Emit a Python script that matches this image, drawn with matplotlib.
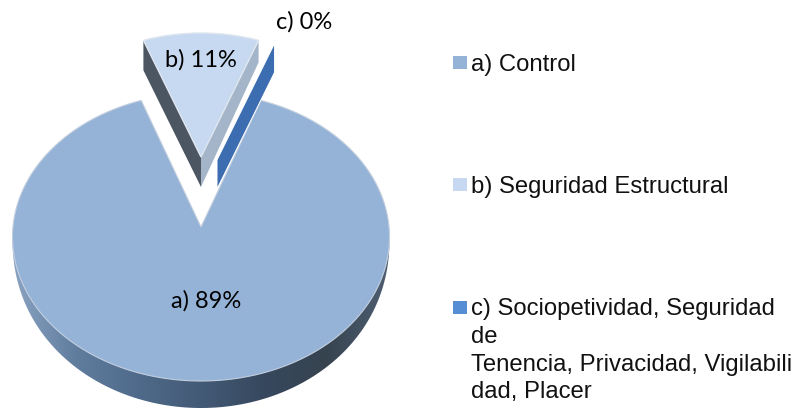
import numpy as np
import matplotlib
matplotlib.use("Agg")
import matplotlib.pyplot as plt
from matplotlib.patches import Wedge, Polygon, Rectangle
from matplotlib.transforms import Affine2D
from matplotlib.colors import LinearSegmentedColormap

# data
values = [89, 11, 0]
pie_labels = ["a) 89%", "b) 11%", "c) 0%"]
legend_labels = [
    ["a) Control"],
    ["b) Seguridad Estructural"],
    ["c) Sociopetividad, Seguridad", "de", "Tenencia, Privacidad, Vigilabili", "dad, Placer"],
]
colors = ["#95b3d7", "#c6d9f0", "#558ed5"]

start_angle = 70.2  # first slice starts here and runs clockwise


def rim(cx, cy, rx, ry, ang):
    t = np.radians(ang)
    return cx + rx * np.cos(t), cy - ry * np.sin(t)


def flat_wedge(ax, cx, cy, rx, ry, t1, t2, color, edge, z):
    tr = Affine2D().scale(rx, -ry).translate(cx, cy) + ax.transData
    w = Wedge((0, 0), 1, t1, t2, facecolor=color, edgecolor=edge, linewidth=1.0, zorder=z, transform=tr)
    ax.add_patch(w)
    return w


fig = plt.figure(figsize=(7.99, 4.11), dpi=100)
ax = fig.add_axes([0, 0, 1, 1])
ax.set_xlim(0, 799)
ax.set_ylim(411, 0)
ax.axis("off")

# slice angles from the values
angles = [v * 3.6 for v in values]
a_end = start_angle
a_start = a_end - angles[0]
b_start = a_start - angles[1]
c_ang = b_start - angles[2]

# a) big slice, with shaded rim that tapers out at the sides
cx, cy, rx, ry, depth = 201, 237, 188.5, 144, 27
t = np.linspace(np.pi, 2 * np.pi, 200)
ex, ey = cx + rx * np.cos(t), cy - ry * np.sin(t)
low = ey + depth * np.abs(np.sin(t)) ** 0.6
rim_pts = np.r_[np.c_[ex, ey - 2], np.c_[ex, low][::-1]]
rim_poly = Polygon(rim_pts, closed=True, facecolor="none", edgecolor="none")
ax.add_patch(rim_poly)
cmap = LinearSegmentedColormap.from_list("r", ["#8aa3c2", "#617d9e", "#4f6a8a", "#435a76", "#36485e", "#36434f", "#4f5f72"])
im = ax.imshow(np.linspace(0, 1, 256).reshape(1, -1), cmap=cmap, extent=(12, 390, 411, 230), aspect="auto", zorder=1)
im.set_clip_path(rim_poly)
ax.set_xlim(0, 799)
ax.set_ylim(411, 0)

# apex of the slice sits a bit above the ellipse centre, so build it from the rim
gap = 1.3
ta = np.radians(np.linspace(a_end + gap, a_start - gap, 300))
apex = (201, 227)
face = np.c_[cx + rx * np.cos(ta), cy - ry * np.sin(ta)]
ax.add_patch(Polygon(np.r_[face, [apex]], closed=True, facecolor=colors[0], edgecolor="#c3cfdf", linewidth=0.8, zorder=2))

# b) pulled out slice
bx, by, brx, bry, bdepth = 201, 157, 170, 124, 30
p1 = rim(bx, by, brx, bry, a_start)
p2 = rim(bx, by, brx, bry, b_start)
left = p1 if p1[0] < p2[0] else p2
right = p1 if p1[0] > p2[0] else p2
ax.add_patch(Polygon([left, (bx, by), (bx, by + bdepth), (left[0], left[1] + bdepth)], closed=True,
                     facecolor="#4b5662", edgecolor="none", zorder=3))
ax.add_patch(Polygon([right, (bx, by), (bx, by + bdepth), (right[0], right[1] + bdepth - 8)], closed=True,
                     facecolor="#a5b5c9", edgecolor="none", zorder=3))
flat_wedge(ax, bx, by, brx, bry, b_start, a_start, colors[1], "#dfe6ef", 4)

# c) zero slice, only its wall is seen
qx, qy, qrx, qry, qdepth = 217, 160, 170, 124, 29
q = rim(qx, qy, qrx, qry, c_ang)
ax.add_patch(Polygon([(qx, qy), q, (q[0], q[1] + qdepth), (qx, qy + qdepth)], closed=True,
                     facecolor="#3b6db0", edgecolor="white", linewidth=0.7, zorder=3))

# pie labels
label_font = ["Lato", "DejaVu Sans"]
ax.text(206, 301, pie_labels[0], ha="center", va="center", fontsize=17, family=label_font, color="black", zorder=6)
ax.text(201, 60, pie_labels[1], ha="center", va="center", fontsize=17, family=label_font, color="black", zorder=6)
ax.text(304, 22, pie_labels[2], ha="center", va="center", fontsize=17, family=label_font, color="black", zorder=6)

# legend
box_y = [56, 178, 300.5]
text_y = [71, 193, 315]
line_step = 27.8
for lab, col, by0, ty in zip(legend_labels, colors, box_y, text_y):
    ax.add_patch(Rectangle((453, by0), 13.5, 13.5, facecolor=col, edgecolor="none", zorder=5))
    for i, line in enumerate(lab):
        ax.text(471, ty + i * line_step, line, ha="left", va="baseline", fontsize=17.2,
                family=["Liberation Sans"], color="#111111")

fig.savefig("out.png", dpi=100)
